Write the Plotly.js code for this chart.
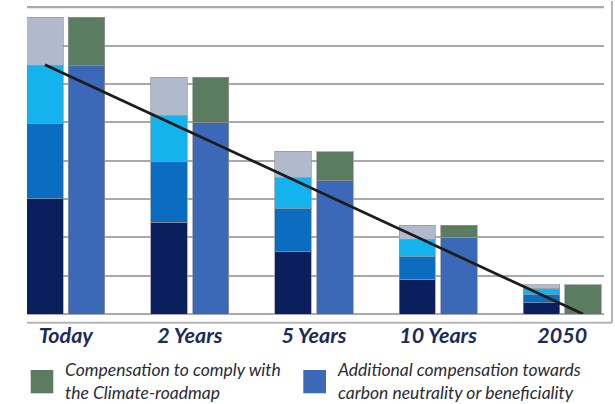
<!DOCTYPE html>
<html>
<head>
<meta charset="utf-8">
<script src="https://cdn.plot.ly/plotly-3.0.1.min.js"></script>
<style>html,body{margin:0;padding:0;background:#fff;}#chart{width:615px;height:404px;}</style>
</head>
<body>
<div id="chart"></div>
<script>
// ---- data ----
const categories = ['Today', '2 Years', '5 Years', '10 Years', '2050'];
// left (composition) bar segments, bottom to top
const segDarkNavy = [3.00, 2.39, 1.62, 0.90, 0.30];
const segMidBlue  = [1.98, 1.59, 1.13, 0.59, 0.20];
const segCyan     = [1.51, 1.19, 0.81, 0.46, 0.16];
const segGrey     = [1.25, 1.00, 0.69, 0.36, 0.10];
// right (compensation) bar segments, bottom to top
const additionalComp = [6.47, 4.99, 3.47, 2.00, 0.00];
const roadmapComp    = [1.27, 1.18, 0.76, 0.31, 0.76];
// trend line end points
const trendCategories = ['Today', '2050'];
const trendValues = [6.5, 0];
const gridValues = [1, 2, 3, 4, 5, 6, 7, 8];
const legendLabels = ['Compensation to comply with<br>the Climate-roadmap',
                      'Additional compensation towards<br>carbon neutrality or beneficiality'];

// ---- style ----
const OFF = 0.168, W = 0.294;
const idx = categories.map((c, i) => i);
const xLeft = idx.map(i => i - OFF);
const xRight = idx.map(i => i + OFF);
const edge = {color: 'rgba(150,150,150,0.7)', width: 1};

function bar(x, y, color, name) {
  return {type: 'bar', x: x, y: y, width: W, name: name, showlegend: false,
          marker: {color: color, line: edge}, hoverinfo: 'skip'};
}

const traces = [
  bar(xLeft, segDarkNavy, '#0b1f5e', 'dark'),
  bar(xLeft, segMidBlue, '#0a6dc0', 'mid'),
  bar(xLeft, segCyan, '#14b3ed', 'cyan'),
  bar(xLeft, segGrey, '#b1b9cc', 'grey'),
  bar(xRight, additionalComp, '#3b69b8', legendLabels[1]),
  bar(xRight, roadmapComp, '#5c7c62', legendLabels[0]),
  {type: 'scatter', mode: 'lines', showlegend: false, hoverinfo: 'skip',
   x: [categories.indexOf(trendCategories[0]) - OFF, categories.indexOf(trendCategories[1]) + OFF],
   y: trendValues, line: {color: '#1b1b1b', width: 2.7}}
];

const L = 27, T = 4, PW = 577, PH = 310;
const px = v => (v - L) / PW;
const py = v => (T + PH - v) / PH;
const legFont = {family: 'Lato, "Open Sans", sans-serif', size: 17.5, color: '#2b2b36', style: 'italic'};
const topGrid = gridValues[gridValues.length - 1];

const layout = {
  width: 615, height: 404,
  margin: {l: L, r: 615 - L - PW, t: T, b: 404 - T - PH, pad: 0},
  paper_bgcolor: '#fff', plot_bgcolor: '#fff',
  barmode: 'stack', bargap: 0,
  showlegend: false,
  xaxis: {range: [-0.3127, 4.337], tickvals: idx, ticktext: categories,
          showgrid: false, zeroline: false, showline: false, ticks: '',
          tickfont: {family: 'Lato, "Open Sans", sans-serif', size: 21.5, color: '#1c2b5a', weight: 'bold', style: 'italic'},
          ticklabelstandoff: 6, fixedrange: true},
  yaxis: {range: [0, 8.085], tickvals: gridValues, showticklabels: false, ticks: '',
          showgrid: true, gridcolor: '#a9a9a9', gridwidth: 2,
          zeroline: true, zerolinecolor: '#a9a9a9', zerolinewidth: 2, fixedrange: true},
  shapes: [
    {type: 'line', xref: 'paper', yref: 'y', x0: 0, x1: 1, y0: topGrid, y1: topGrid, layer: 'below', line: {color: '#a9a9a9', width: 2}},
    {type: 'line', xref: 'paper', yref: 'paper', x0: px(612), x1: px(612), y0: py(322.7), y1: py(1), line: {color: '#b5b5b5', width: 2}},
    {type: 'line', xref: 'paper', yref: 'paper', x0: 0, x1: px(612), y0: py(322.7), y1: py(322.7), line: {color: '#b5b5b5', width: 2}},
    {type: 'rect', xref: 'paper', yref: 'paper', x0: px(30.7), x1: px(53.3), y0: py(393.3), y1: py(370), fillcolor: '#5c7c62', line: {width: 0}},
    {type: 'rect', xref: 'paper', yref: 'paper', x0: px(303.3), x1: px(326), y0: py(393.3), y1: py(370), fillcolor: '#3b69b8', line: {width: 0}}
  ],
  annotations: [
    {xref: 'paper', yref: 'paper', x: px(63), y: py(357), xanchor: 'left', yanchor: 'top', align: 'left',
     showarrow: false, text: legendLabels[0], font: legFont},
    {xref: 'paper', yref: 'paper', x: px(335), y: py(357), xanchor: 'left', yanchor: 'top', align: 'left',
     showarrow: false, text: legendLabels[1], font: legFont}
  ]
};

Plotly.newPlot('chart', traces, layout, {staticPlot: true, displayModeBar: false});
</script>
</body>
</html>
